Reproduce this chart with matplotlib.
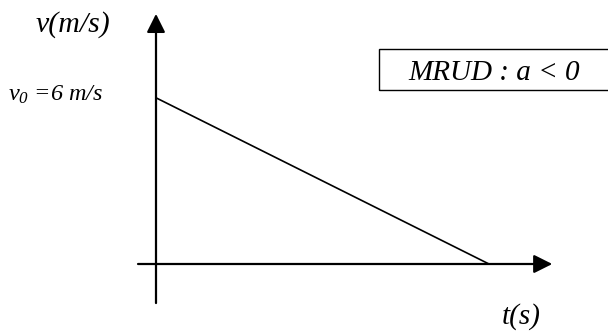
import numpy as np
import matplotlib.pyplot as plt
from matplotlib.patches import Rectangle

plt.rcParams['font.family'] = 'Liberation Serif'
plt.rcParams['font.style'] = 'italic'
plt.rcParams['mathtext.fontset'] = 'custom'
plt.rcParams['mathtext.it'] = 'Liberation Serif:italic'
plt.rcParams['mathtext.rm'] = 'Liberation Serif:italic'

# velocity decreases uniformly from v0 to zero
t = [0, 10]
v = [6, 0]

W, H = 608, 332
fig = plt.figure(figsize=(W / 100, H / 100), dpi=100)
ax = fig.add_axes([0, 0, 1, 1])
ax.set_axis_off()

# pixel scale of the sketch
px_t = 33.3
px_v = 27.7
ox, oy = 156, 264
ax.set_xlim(-ox / px_t, (W - ox) / px_t)
ax.set_ylim(-(H - oy) / px_v, oy / px_v)

arrow = dict(arrowstyle='-|>,head_length=0.8,head_width=0.4',
             mutation_scale=14, color='black', lw=1.6, shrinkA=0, shrinkB=0)
ax.annotate('', xy=(11.9, 0), xytext=(-0.54, 0), arrowprops=arrow)
ax.annotate('', xy=(0, 9.03), xytext=(0, -1.41), arrowprops=arrow)

ax.plot(t, v, color='black', lw=1.2, solid_capstyle='butt')

def fx(x):
    return x / W

def fy(y):
    return 1 - y / H

fig.text(fx(36), fy(32), 'v(m/s)', fontsize=21.5, ha='left', va='baseline')
fig.text(fx(8), fy(101), r'$v_0$ =6 m/s', fontsize=17.5, ha='left', va='baseline')
fig.text(fx(502), fy(324), 't(s)', fontsize=21, ha='left', va='baseline')
fig.text(fx(408), fy(80), 'MRUD : a < 0', fontsize=21, ha='left', va='baseline')

fig.patches.append(Rectangle((fx(379), fy(90)), 1, 41 / H, transform=fig.transFigure,
                             fill=False, edgecolor='black', lw=1.0))

fig.savefig('out.png', dpi=100)
